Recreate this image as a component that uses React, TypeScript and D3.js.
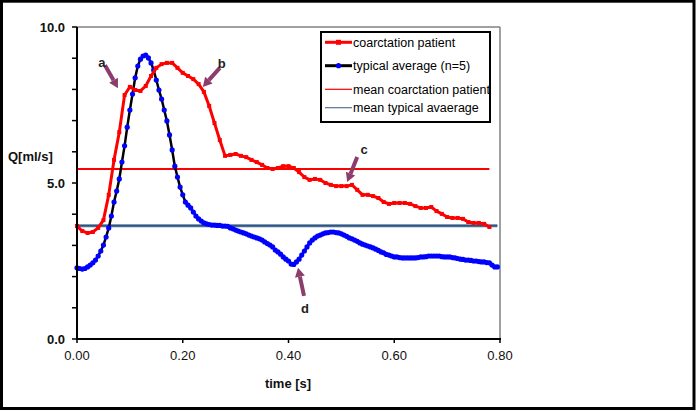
import * as d3 from 'd3';

// time axis, seconds
const TIME_TICKS = [0, 0.2, 0.4, 0.6, 0.8];
const FLOW_TICKS = [0, 5, 10];

// typical average (n=5), sampled every 5 ms from t=0
const TYPICAL_STEP = 0.005;
const TYPICAL = [
  2.28, 2.26, 2.24, 2.26, 2.31, 2.37, 2.44, 2.53, 2.66, 2.82,
  3.01, 3.27, 3.56, 3.94, 4.39, 4.74, 5.13, 5.67, 6.19, 6.79,
  7.34, 7.85, 8.37, 8.75, 8.97, 9.07, 9.1, 9.01, 8.85, 8.62,
  8.3, 7.98, 7.69, 7.34, 6.99, 6.54, 6.06, 5.54, 5.19, 4.87,
  4.62, 4.39, 4.29, 4.2, 4.07, 3.94, 3.85, 3.78, 3.72, 3.69,
  3.67, 3.65, 3.65, 3.64, 3.64, 3.62, 3.62, 3.61, 3.56, 3.53,
  3.49, 3.46, 3.43, 3.4, 3.37, 3.33, 3.3, 3.27, 3.24, 3.21,
  3.17, 3.11, 3.06, 3.01, 2.95, 2.85, 2.79, 2.72, 2.63, 2.56,
  2.5, 2.4, 2.39, 2.47, 2.56, 2.69, 2.82, 2.95, 3.08, 3.17,
  3.24, 3.3, 3.33, 3.37, 3.4, 3.41, 3.43, 3.43, 3.41, 3.4,
  3.37, 3.33, 3.29, 3.24, 3.21, 3.17, 3.13, 3.08, 3.04, 3.01,
  2.98, 2.95, 2.92, 2.88, 2.84, 2.79, 2.76, 2.71, 2.69, 2.66,
  2.63, 2.63, 2.61, 2.6, 2.6, 2.6, 2.6, 2.6, 2.6, 2.61,
  2.63, 2.63, 2.64, 2.66, 2.66, 2.66, 2.66, 2.66, 2.64, 2.63,
  2.63, 2.63, 2.61, 2.6, 2.58, 2.56, 2.55, 2.53, 2.53, 2.52,
  2.5, 2.5, 2.48, 2.47, 2.47, 2.45, 2.44, 2.37, 2.31, 2.31,
];

// coarctation patient, sampled every 10 ms from t=0
const PATIENT_STEP = 0.01;
const PATIENT = [
  3.62, 3.46, 3.4, 3.43, 3.56, 3.81, 4.62, 5.74, 6.63, 7.82,
  8.08, 7.98, 7.95, 8.11, 8.43, 8.69, 8.81, 8.85, 8.85, 8.69,
  8.53, 8.43, 8.33, 8.17, 7.92, 7.47, 6.92, 6.38, 5.87, 5.9,
  5.93, 5.87, 5.83, 5.74, 5.67, 5.58, 5.48, 5.45, 5.48, 5.54,
  5.54, 5.48, 5.35, 5.19, 5.1, 5.13, 5.1, 5.0, 4.94, 4.9,
  4.9, 4.9, 4.94, 4.78, 4.62, 4.62, 4.58, 4.52, 4.39, 4.33,
  4.36, 4.36, 4.36, 4.33, 4.26, 4.2, 4.2, 4.23, 4.1, 4.01,
  3.91, 3.88, 3.88, 3.85, 3.75, 3.72, 3.72, 3.69, 3.59,
];

const MEAN_PATIENT = 5.45;
const MEAN_TYPICAL = 3.63;

const LEGEND_LABELS = [
  'coarctation patient',
  'typical average (n=5)',
  'mean coarctation patient',
  'mean typical avaerage',
];

// arrow annotations: tip in data units
const NOTES = [
  { label: 'a', t: 0.0775, v: 8.04 },
  { label: 'b', t: 0.238, v: 8.08 },
  { label: 'c', t: 0.511, v: 5.03 },
  { label: 'd', t: 0.418, v: 2.28 },
];
const NOTE_OFFSETS: Record<string, { tail: [number, number]; text: [number, number] }> = {
  a: { tail: [-13, -23], text: [-16, -26] },
  b: { tail: [17, -19], text: [19, -24] },
  c: { tail: [10, -25], text: [17, -33] },
  d: { tail: [6, 28], text: [7, 40] },
};

const RED = '#ff0000';
const BLUE = '#0000ff';
const MEAN_BLUE = '#2f5580';
const ARROW = '#8b3d6c';
const FONT = '"Liberation Sans", Arial, sans-serif';

export default function App() {
  const width = 696;
  const height = 411;
  const x = d3.scaleLinear().domain([0, 0.8]).range([77, 500]);
  const y = d3.scaleLinear().domain([0, 10]).range([339, 27]);

  const typical = TYPICAL.map((v, i) => [i * TYPICAL_STEP, v] as [number, number]);
  const patient = PATIENT.map((v, i) => [i * PATIENT_STEP, v] as [number, number]);

  const line = d3
    .line<[number, number]>()
    .x((d) => x(d[0]))
    .y((d) => y(d[1]));

  const minorTicks = d3.range(0, 10.01, 1);
  const lastPatient = patient[patient.length - 1][0];
  const lastTypical = typical[typical.length - 1][0];

  const legendX = 321;
  const legendRows = [42.3, 65.7, 89.3, 107.7];

  return (
    <svg
      width={width}
      height={height}
      style={{ position: 'absolute', left: 0, top: 0, background: '#fff' }}
      fontFamily={FONT}
    >
      <rect x={1.5} y={1.2} width={692.5} height={407.3} fill="#fff" stroke="#000" strokeWidth={3} />

      {/* plot frame */}
      <line x1={x(0)} x2={x(0.8)} y1={y(10)} y2={y(10)} stroke="#808080" strokeWidth={1.5} />
      <line x1={x(0.8)} x2={x(0.8)} y1={y(10)} y2={y(0)} stroke="#808080" strokeWidth={1.5} />

      {/* mean lines */}
      <line x1={x(0)} x2={x(lastTypical)} y1={y(MEAN_TYPICAL)} y2={y(MEAN_TYPICAL)} stroke="#9db3cc" strokeWidth={3.5} />
      <line x1={x(0)} x2={x(lastTypical)} y1={y(MEAN_TYPICAL)} y2={y(MEAN_TYPICAL)} stroke={MEAN_BLUE} strokeWidth={2} />
      <line x1={x(0)} x2={x(lastPatient)} y1={y(MEAN_PATIENT)} y2={y(MEAN_PATIENT)} stroke={RED} strokeWidth={2} />

      {/* typical average */}
      <path d={line(typical) ?? ''} fill="none" stroke="#000" strokeWidth={2.5} />
      {typical.map((d, i) => (
        <circle key={i} cx={x(d[0])} cy={y(d[1])} r={2.6} fill={BLUE} />
      ))}

      {/* coarctation patient */}
      <path d={line(patient) ?? ''} fill="none" stroke={RED} strokeWidth={3} strokeLinejoin="round" />
      {patient.map((d, i) => (
        <rect key={i} x={x(d[0]) - 2} y={y(d[1]) - 2} width={4} height={4} fill={RED} />
      ))}

      {/* axes */}
      <line x1={x(0)} x2={x(0)} y1={y(10)} y2={y(0) + 1} stroke="#000" strokeWidth={2} />
      <line x1={x(0) - 1} x2={x(0.8) + 1} y1={y(0)} y2={y(0)} stroke="#000" strokeWidth={2} />
      {minorTicks.map((v) => (
        <line key={v} x1={x(0) - 5} x2={x(0)} y1={y(v)} y2={y(v)} stroke="#000" strokeWidth={1.5} />
      ))}
      {FLOW_TICKS.map((v) => (
        <text key={v} x={x(0) - 12} y={y(v)} dy="0.36em" textAnchor="end" fontSize={13} fontWeight="bold" fill="#111">
          {v.toFixed(1)}
        </text>
      ))}
      {TIME_TICKS.map((t) => (
        <g key={t}>
          <line x1={x(t)} x2={x(t)} y1={y(0)} y2={y(0) + 4} stroke="#000" strokeWidth={1.5} />
          <text x={x(t)} y={y(0) + 21} textAnchor="middle" fontSize={13} fill="#111">
            {t.toFixed(2)}
          </text>
        </g>
      ))}
      <text x={8} y={161} fontSize={13} fontWeight="bold" fill="#111">Q[ml/s]</text>
      <text x={288} y={388} textAnchor="middle" fontSize={13} fontWeight="bold" fill="#111">time [s]</text>

      {/* annotations */}
      {NOTES.map((n) => {
        const tx = x(n.t);
        const ty = y(n.v);
        const off = NOTE_OFFSETS[n.label];
        const sx = tx + off.tail[0];
        const sy = ty + off.tail[1];
        const ang = Math.atan2(ty - sy, tx - sx);
        const len = 9;
        const bx = tx - len * Math.cos(ang);
        const by = ty - len * Math.sin(ang);
        const px = -Math.sin(ang) * 5;
        const py = Math.cos(ang) * 5;
        return (
          <g key={n.label}>
            <line x1={sx} y1={sy} x2={bx} y2={by} stroke={ARROW} strokeWidth={4} />
            <polygon points={`${tx},${ty} ${bx + px},${by + py} ${bx - px},${by - py}`} fill={ARROW} />
            <text x={tx + off.text[0]} y={ty + off.text[1]} dy="0.36em" textAnchor="middle" fontSize={13} fontWeight="bold" fill="#222">
              {n.label}
            </text>
          </g>
        );
      })}

      {/* legend */}
      <rect x={legendX} y={32} width={169} height={90} fill="#fff" stroke="#000" strokeWidth={2} />
      {LEGEND_LABELS.map((label, i) => {
        const ly = legendRows[i];
        const x1 = legendX + 4;
        const x2 = legendX + 31;
        return (
          <g key={label}>
            {i === 0 && (
              <>
                <line x1={x1} x2={x2} y1={ly} y2={ly} stroke={RED} strokeWidth={3} />
                <rect x={(x1 + x2) / 2 - 2.5} y={ly - 2.5} width={5} height={5} fill={RED} />
              </>
            )}
            {i === 1 && (
              <>
                <line x1={x1} x2={x2} y1={ly} y2={ly} stroke="#000" strokeWidth={3} />
                <circle cx={(x1 + x2) / 2} cy={ly} r={2.6} fill={BLUE} />
              </>
            )}
            {i === 2 && <line x1={x1} x2={x2} y1={ly} y2={ly} stroke={RED} strokeWidth={1.2} />}
            {i === 3 && <line x1={x1} x2={x2} y1={ly} y2={ly} stroke="#5a7390" strokeWidth={1.2} />}
            <text x={x2 + 1} y={ly} dy="0.36em" fontSize={12.5} fill="#000">
              {label}
            </text>
          </g>
        );
      })}
    </svg>
  );
}
